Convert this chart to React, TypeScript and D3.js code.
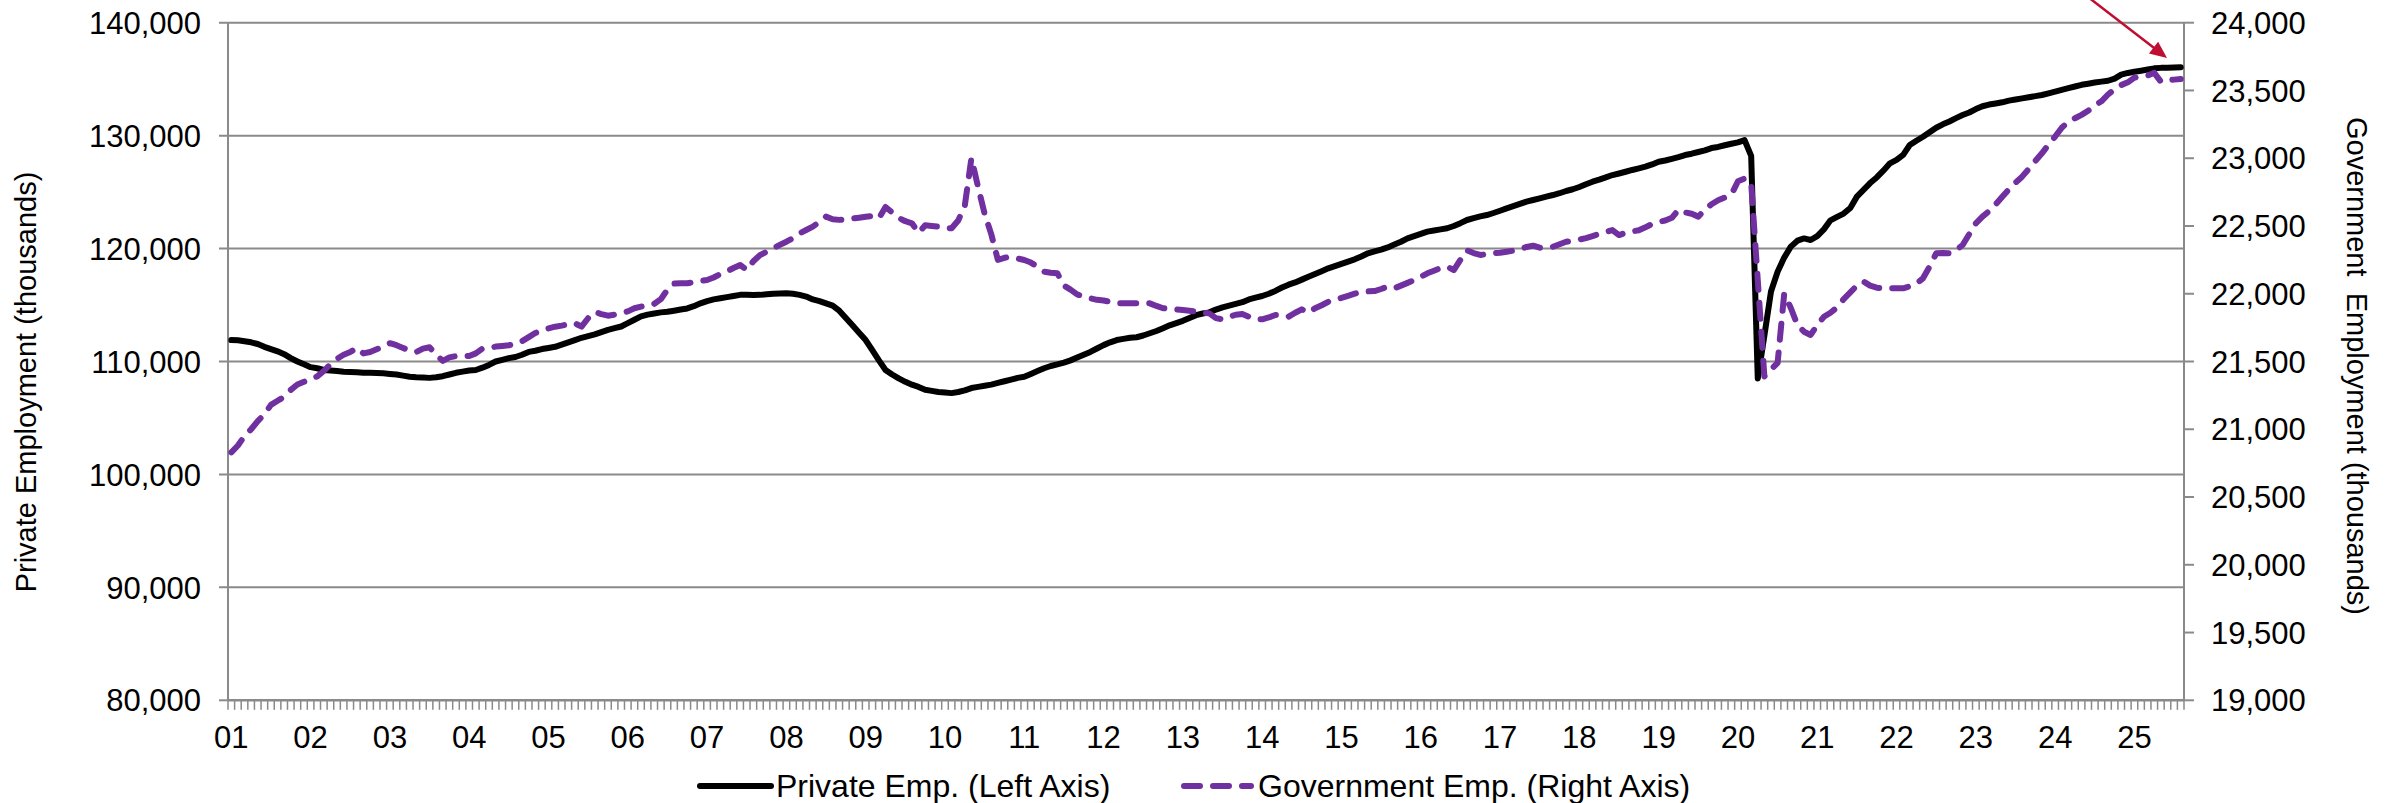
import React from "react";
import * as d3 from "d3";

// Monthly, Jan 2001 .. Aug 2025 (thousands)
const privateEmp: number[] = [
  // 2001
  111900, 111880, 111800, 111700, 111550, 111300, 111100, 110900, 110650, 110300, 110000, 109750,
  // 2002
  109500, 109400, 109250, 109200, 109150, 109100, 109080, 109050, 109000, 109000, 108980, 108950,
  // 2003
  108900, 108850, 108750, 108650, 108600, 108580, 108550, 108600, 108700, 108850, 109000, 109100,
  // 2004
  109200, 109250, 109450, 109700, 110000, 110150, 110300, 110400, 110600, 110850, 110950, 111100,
  // 2005
  111200, 111300, 111500, 111700, 111900, 112100, 112250, 112400, 112600, 112800, 112950, 113100,
  // 2006
  113400, 113700, 114000, 114150, 114250, 114350, 114400, 114500, 114600, 114700, 114900, 115150,
  // 2007
  115350, 115500, 115600, 115700, 115800, 115900, 115900, 115880, 115900, 115950, 116000, 116020,
  // 2008
  116050, 116000, 115900, 115750, 115500, 115350, 115150, 114950, 114500, 113850, 113200, 112550,
  // 2009
  111900, 111000, 110100, 109250, 108850, 108500, 108200, 107950, 107750, 107500, 107400, 107300,
  // 2010
  107250, 107200, 107300, 107450, 107650, 107750, 107850, 107950, 108100, 108250, 108400, 108550,
  // 2011
  108650, 108900, 109150, 109400, 109600, 109750, 109900, 110100, 110350, 110600, 110850, 111150,
  // 2012
  111450, 111700, 111900, 112000, 112100, 112150, 112300, 112500, 112700, 112950, 113200, 113400,
  // 2013
  113600, 113850, 114100, 114250, 114350, 114600, 114800, 114950, 115100, 115250, 115500, 115650,
  // 2014
  115800, 116000, 116250, 116550, 116800, 117000, 117250, 117500, 117750, 118000, 118250, 118450,
  // 2015
  118650, 118850, 119050, 119300, 119580, 119750, 119900, 120100, 120350, 120600, 120900, 121100,
  // 2016
  121300, 121500, 121600, 121700, 121800, 122000, 122250, 122530, 122700, 122850, 122970, 123150,
  // 2017
  123350, 123560, 123750, 123950, 124150, 124300, 124450, 124600, 124740, 124900, 125100, 125250,
  // 2018
  125450, 125700, 125920, 126100, 126300, 126510, 126650, 126800, 126960, 127100, 127250, 127450,
  // 2019
  127690, 127800, 127950, 128100, 128280, 128400, 128550, 128700, 128900, 129000, 129150, 129280,
  // 2020
  129400, 129600, 128200, 108500, 112300, 116200, 117950, 119200, 120170, 120700, 120900, 120760,
  // 2021
  121100, 121700, 122500, 122800, 123100, 123600, 124600, 125200, 125800, 126300, 126900, 127550,
  // 2022
  127850, 128300, 129170, 129550, 129900, 130300, 130700, 131000, 131250, 131550, 131820, 132050,
  // 2023
  132350, 132600, 132750, 132850, 132950, 133100, 133200, 133300, 133400, 133500, 133600, 133750,
  // 2024
  133900, 134050, 134200, 134350, 134500, 134600, 134700, 134780, 134860, 135050, 135400, 135550,
  // 2025
  135650, 135750, 135850, 135960, 136000, 136020, 136040, 136060,
];

const governmentEmp: number[] = [
  // 2001
  20830, 20880, 20950, 21000, 21060, 21110, 21180, 21210, 21240, 21290, 21330, 21350,
  // 2002
  21370, 21390, 21430, 21480, 21520, 21550, 21570, 21600, 21560, 21570, 21590, 21610,
  // 2003
  21635, 21620, 21600, 21580, 21570, 21595, 21605, 21550, 21505, 21530, 21540, 21540,
  // 2004
  21540, 21560, 21595, 21600, 21610, 21615, 21620, 21630, 21650, 21680, 21710, 21730,
  // 2005
  21745, 21757, 21765, 21775, 21782, 21757, 21820, 21865, 21850, 21838, 21845, 21856,
  // 2006
  21870, 21893, 21905, 21915, 21925, 21960, 22030, 22075, 22077, 22078, 22085, 22095,
  // 2007
  22101, 22120, 22145, 22165, 22190, 22212, 22175, 22240, 22285, 22310, 22335, 22360,
  // 2008
  22384, 22410, 22446, 22470, 22495, 22530, 22569, 22550, 22545, 22550, 22555, 22561,
  // 2009
  22568, 22574, 22557, 22640, 22600, 22560, 22535, 22520, 22450, 22505, 22500, 22495,
  // 2010
  22485, 22483, 22540, 22650, 23000, 22790, 22590, 22440, 22250, 22265, 22273, 22260,
  // 2011
  22249, 22230, 22200, 22163, 22155, 22151, 22060, 22030, 21995, 21980, 21966, 21955,
  // 2012
  21950, 21940, 21930, 21929, 21929, 21930, 21929, 21929, 21910, 21893, 21890, 21885,
  // 2013
  21880, 21875, 21868, 21860, 21855, 21820, 21811, 21830, 21845, 21850, 21830, 21811,
  // 2014
  21811, 21825, 21843, 21838, 21831, 21860, 21885, 21860, 21893, 21915, 21941, 21955,
  // 2015
  21970, 21985, 22000, 22015, 22018, 22020, 22035, 22052, 22040, 22060, 22080, 22101,
  // 2016
  22125, 22151, 22170, 22190, 22200, 22175, 22250, 22320, 22300, 22286, 22292, 22298,
  // 2017
  22303, 22310, 22318, 22330, 22345, 22355, 22340, 22342, 22347, 22365, 22384, 22390,
  // 2018
  22400, 22410, 22425, 22441, 22455, 22470, 22433, 22450, 22460, 22468, 22490, 22515,
  // 2019
  22530, 22540, 22560, 22620, 22600, 22590, 22569, 22620, 22660, 22690, 22710, 22730,
  // 2020
  22830, 22850, 22815, 22100, 21390, 21440, 21490, 22000, 21895, 21770, 21720, 21696,
  // 2021
  21770, 21830, 21860, 21900, 21960, 22010, 22060, 22090, 22060, 22045, 22040, 22040,
  // 2022
  22040, 22040, 22055, 22075, 22114, 22200, 22298, 22300, 22298, 22320, 22360, 22440,
  // 2023
  22520, 22569, 22610, 22660, 22716, 22770, 22820, 22864, 22920, 22980, 23036, 23100,
  // 2024
  23160, 23225, 23270, 23295, 23320, 23350, 23390, 23420, 23470, 23510, 23540, 23560,
  // 2025
  23595, 23602, 23610, 23630, 23565, 23575, 23580, 23585,
];

const yearLabels: string[] = [
  "01", "02", "03", "04", "05", "06", "07", "08", "09", "10", "11", "12", "13",
  "14", "15", "16", "17", "18", "19", "20", "21", "22", "23", "24", "25",
];

const leftTicks: number[] = [80000, 90000, 100000, 110000, 120000, 130000, 140000];
const rightTicks: number[] = [19000, 19500, 20000, 20500, 21000, 21500, 22000, 22500, 23000, 23500, 24000];

const seriesNames: string[] = ["Private Emp. (Left Axis)", "Government Emp. (Right Axis)"];
const axisTitles: string[] = ["Private Employment (thousands)", "Government  Employment (thousands)"];

const W = 2397;
const H = 803;
const FONT = "'Liberation Sans', Arial, Helvetica, sans-serif";
const GRID = "#8a8a8a";
const PURPLE = "#7030A0";

export default function App() {
  const N = privateEmp.length;
  const left = 228;
  const right = 2184;
  const top = 22.7;
  const bottom = 700.3;

  const x = d3.scaleLinear().domain([0, N]).range([left, right]);
  const yL = d3.scaleLinear().domain([80000, 140000]).range([bottom, top]);
  const yR = d3.scaleLinear().domain([19000, 24000]).range([bottom, top]);
  const fmt = d3.format(",");

  const linePriv = d3
    .line<number>()
    .x((_, i) => x(i + 0.5))
    .y((d) => yL(d));
  const lineGov = d3
    .line<number>()
    .x((_, i) => x(i + 0.5))
    .y((d) => yR(d));

  const minor = d3.range(0, N + 1);

  // arrow annotation
  const a0 = [2088, -3];
  const a1 = [2167, 58];
  const dx = a1[0] - a0[0];
  const dy = a1[1] - a0[1];
  const len = Math.hypot(dx, dy);
  const ux = dx / len;
  const uy = dy / len;
  const hl = 17;
  const hw = 7.5;
  const bx = a1[0] - ux * hl;
  const by = a1[1] - uy * hl;
  const head = `${a1[0]},${a1[1]} ${bx - uy * hw},${by + ux * hw} ${bx + uy * hw},${by - ux * hw}`;

  return (
    <svg
      width={W}
      height={H}
      viewBox={`0 0 ${W} ${H}`}
      style={{ position: "absolute", left: 0, top: 0, background: "#fff" }}
      fontFamily={FONT}
    >
      <rect x={0} y={0} width={W} height={H} fill="#fff" />
      {/* gridlines */}
      {leftTicks.slice(1).map((t) => (
        <line key={"g" + t} x1={left - 9} x2={right} y1={yL(t)} y2={yL(t)} stroke={GRID} strokeWidth={2} />
      ))}
      {/* left axis */}
      <line x1={left} x2={left} y1={top} y2={bottom} stroke={GRID} strokeWidth={2} />
      <line x1={left - 9} x2={left} y1={bottom} y2={bottom} stroke={GRID} strokeWidth={2} />
      {/* right axis */}
      <line x1={right} x2={right} y1={top} y2={bottom} stroke={GRID} strokeWidth={2} />
      {rightTicks.map((t) => (
        <line key={"rt" + t} x1={right} x2={right + 10} y1={yR(t)} y2={yR(t)} stroke={GRID} strokeWidth={2} />
      ))}
      {/* bottom axis */}
      <line x1={left} x2={right} y1={bottom} y2={bottom} stroke={GRID} strokeWidth={2.4} />
      {minor.map((k) => (
        <line key={"m" + k} x1={x(k)} x2={x(k)} y1={bottom} y2={bottom + 9.5} stroke={GRID} strokeWidth={1.5} />
      ))}

      {/* tick labels */}
      {leftTicks.map((t) => (
        <text key={"lt" + t} x={201} y={yL(t)} dy="0.36em" textAnchor="end" fontSize={31} fill="#000">
          {fmt(t)}
        </text>
      ))}
      {rightTicks.map((t) => (
        <text key={"rl" + t} x={2211} y={yR(t)} dy="0.36em" textAnchor="start" fontSize={31} fill="#000">
          {fmt(t)}
        </text>
      ))}
      {yearLabels.map((lab, j) => (
        <text key={"yl" + lab} x={x(j * 12 + 0.5)} y={748} textAnchor="middle" fontSize={31} fill="#000">
          {lab}
        </text>
      ))}

      {/* axis titles */}
      <text transform={`translate(36,382) rotate(-90)`} textAnchor="middle" fontSize={29} fill="#000">
        {axisTitles[0]}
      </text>
      <text
        transform={`translate(2347,366) rotate(90)`}
        textAnchor="middle"
        fontSize={29}
        fill="#000"
        style={{ whiteSpace: "pre" }}
      >
        {axisTitles[1]}
      </text>

      {/* series */}
      <path d={linePriv(privateEmp) || ""} fill="none" stroke="#000" strokeWidth={6} strokeLinejoin="round" strokeLinecap="round" />
      <path
        d={lineGov(governmentEmp) || ""}
        fill="none"
        stroke={PURPLE}
        strokeWidth={6}
        strokeDasharray="16 13"
        strokeLinejoin="round"
        strokeLinecap="round"
      />

      {/* annotation arrow */}
      <line x1={a0[0]} y1={a0[1]} x2={bx + ux * 2} y2={by + uy * 2} stroke="#C00D32" strokeWidth={2.5} />
      <polygon points={head} fill="#C00D32" />

      {/* legend */}
      <line x1={700} x2={771} y1={786} y2={786} stroke="#000" strokeWidth={6} strokeLinecap="round" />
      <text x={776} y={797} fontSize={32} fill="#000">
        {seriesNames[0]}
      </text>
      <line
        x1={1184}
        x2={1251}
        y1={786}
        y2={786}
        stroke={PURPLE}
        strokeWidth={6}
        strokeDasharray="16 13"
        strokeLinecap="round"
      />
      <text x={1258} y={797} fontSize={32} fill="#000">
        {seriesNames[1]}
      </text>
    </svg>
  );
}
